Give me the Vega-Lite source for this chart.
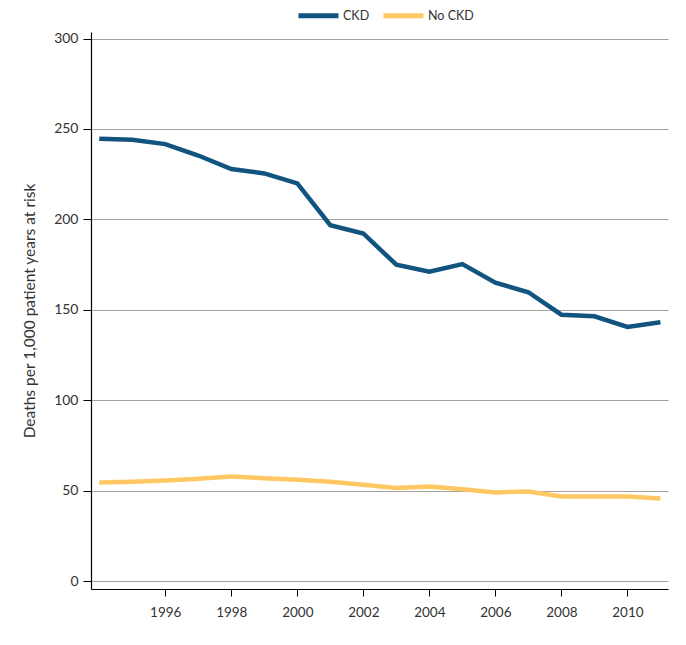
{
  "$schema": "https://vega.github.io/schema/vega-lite/v6.json",
  "width": 577,
  "height": 557,
  "autosize": "none",
  "padding": {"left": 91, "top": 32, "right": 18, "bottom": 56},
  "background": "white",
  "config": {
    "view": {"stroke": null},
    "font": "Lato",
    "axis": {"labelFont": "Lato", "titleFont": "Lato", "labelColor": "#333333", "titleColor": "#333333"}
  },
  "data": {
    "values": [
      {"year": 1994, "group": "CKD", "rate": 244.6},
      {"year": 1995, "group": "CKD", "rate": 244.0},
      {"year": 1996, "group": "CKD", "rate": 241.6},
      {"year": 1997, "group": "CKD", "rate": 235.3},
      {"year": 1998, "group": "CKD", "rate": 227.8},
      {"year": 1999, "group": "CKD", "rate": 225.4},
      {"year": 2000, "group": "CKD", "rate": 219.9},
      {"year": 2001, "group": "CKD", "rate": 196.8},
      {"year": 2002, "group": "CKD", "rate": 192.2},
      {"year": 2003, "group": "CKD", "rate": 174.9},
      {"year": 2004, "group": "CKD", "rate": 171.0},
      {"year": 2005, "group": "CKD", "rate": 175.3},
      {"year": 2006, "group": "CKD", "rate": 165.0},
      {"year": 2007, "group": "CKD", "rate": 159.7},
      {"year": 2008, "group": "CKD", "rate": 147.3},
      {"year": 2009, "group": "CKD", "rate": 146.4},
      {"year": 2010, "group": "CKD", "rate": 140.5},
      {"year": 2011, "group": "CKD", "rate": 143.1},
      {"year": 1994, "group": "No CKD", "rate": 54.5},
      {"year": 1995, "group": "No CKD", "rate": 54.9},
      {"year": 1996, "group": "No CKD", "rate": 55.6},
      {"year": 1997, "group": "No CKD", "rate": 56.5},
      {"year": 1998, "group": "No CKD", "rate": 57.8},
      {"year": 1999, "group": "No CKD", "rate": 56.9},
      {"year": 2000, "group": "No CKD", "rate": 56.0},
      {"year": 2001, "group": "No CKD", "rate": 54.9},
      {"year": 2002, "group": "No CKD", "rate": 53.2},
      {"year": 2003, "group": "No CKD", "rate": 51.5},
      {"year": 2004, "group": "No CKD", "rate": 52.3},
      {"year": 2005, "group": "No CKD", "rate": 50.8},
      {"year": 2006, "group": "No CKD", "rate": 49.0},
      {"year": 2007, "group": "No CKD", "rate": 49.5},
      {"year": 2008, "group": "No CKD", "rate": 46.7},
      {"year": 2009, "group": "No CKD", "rate": 46.7},
      {"year": 2010, "group": "No CKD", "rate": 46.7},
      {"year": 2011, "group": "No CKD", "rate": 45.6}
    ]
  },
  "mark": {"type": "line", "strokeWidth": 4.5, "interpolate": "linear"},
  "encoding": {
    "x": {
      "field": "year",
      "type": "quantitative",
      "scale": {"domain": [1993.75, 2011.23], "nice": false, "zero": false},
      "axis": {
        "title": null,
        "values": [1996, 1998, 2000, 2002, 2004, 2006, 2008, 2010],
        "format": "d",
        "grid": false,
        "domainColor": "#000000",
        "domainWidth": 1.2,
        "tickColor": "#000000",
        "tickSize": 7,
        "labelFontSize": 13.5,
        "labelPadding": 9
      }
    },
    "y": {
      "field": "rate",
      "type": "quantitative",
      "scale": {"domain": [-4.4, 303.6], "nice": false, "zero": false},
      "axis": {
        "title": "Deaths per 1,000 patient years at risk",
        "titleFontSize": 15.5,
        "titleFontWeight": "normal",
        "titlePadding": 16,
        "values": [0, 50, 100, 150, 200, 250, 300],
        "grid": true,
        "gridColor": "#A8A29C",
        "gridWidth": 1,
        "gridOpacity": 1,
        "domainColor": "#000000",
        "domainWidth": 1.2,
        "tickColor": "#000000",
        "tickSize": 8,
        "labelFontSize": 14,
        "labelPadding": 5
      }
    },
    "color": {
      "field": "group",
      "type": "nominal",
      "scale": {"domain": ["CKD", "No CKD"], "range": ["#11547F", "#FFC862"]},
      "legend": {
        "title": null,
        "orient": "none",
        "direction": "horizontal",
        "legendX": 205,
        "legendY": -39,
        "symbolType": "stroke",
        "symbolSize": 1600,
        "symbolStrokeWidth": 5,
        "labelFontSize": 12.5,
        "labelColor": "#333333",
        "labelOffset": 2,
        "columnPadding": 3
      }
    }
  }
}
